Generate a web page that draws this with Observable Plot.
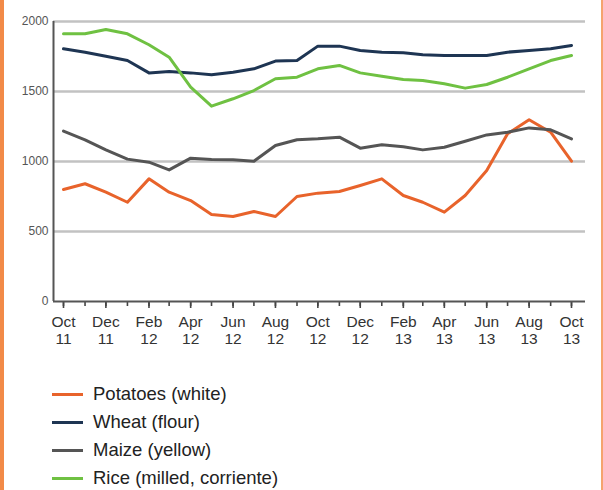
<!DOCTYPE html>
<html>
<head>
<meta charset="utf-8">
<script src="https://cdn.jsdelivr.net/npm/d3@7"></script>
<script src="https://cdn.jsdelivr.net/npm/@observablehq/plot@0.6"></script>
<style>
  html, body { margin: 0; padding: 0; background: #fff; }
  body { width: 603px; height: 490px; position: relative; overflow: hidden; font-family: "Liberation Sans", Arial, sans-serif; }
  #border-left { position: absolute; left: 0; top: 0; width: 4px; height: 490px; background: #f28a48; }
  #border-right { position: absolute; left: 601px; top: 0; width: 2px; height: 490px; background: #f5a36e; }
  #chart { position: absolute; left: 0; top: 0; }
  #legend { position: absolute; left: 0; top: 380px; }
  .item { position: absolute; left: 0; height: 28px; width: 400px; }
  .sw { position: absolute; left: 52px; width: 31px; height: 3px; top: 13px; }
  .lb { position: absolute; left: 93px; top: 0; line-height: 28px; font-size: 18.5px; color: #222; white-space: nowrap; }
</style>
</head>
<body>
<div id="chart"></div>
<div id="legend"></div>
<div id="border-left"></div>
<div id="border-right"></div>
<script>
// ---- data ----
const months = [
  "2011-10","2011-11","2011-12","2012-01","2012-02","2012-03","2012-04","2012-05","2012-06",
  "2012-07","2012-08","2012-09","2012-10","2012-11","2012-12","2013-01","2013-02","2013-03",
  "2013-04","2013-05","2013-06","2013-07","2013-08","2013-09","2013-10"
];
const seriesNames = ["Potatoes (white)", "Wheat (flour)", "Maize (yellow)", "Rice (milled, corriente)"];
const potatoes = [800, 841, 781, 709, 876, 781, 721, 621, 607, 643, 607, 750, 774, 786, 829, 876, 757, 709, 638, 757, 936, 1198, 1298, 1209, 1002];
const wheat    = [1805, 1781, 1752, 1721, 1633, 1643, 1633, 1619, 1638, 1662, 1717, 1721, 1824, 1824, 1793, 1781, 1776, 1762, 1757, 1757, 1757, 1781, 1793, 1805, 1829];
const maize    = [1217, 1155, 1083, 1017, 995, 940, 1024, 1014, 1012, 1002, 1114, 1155, 1162, 1174, 1095, 1119, 1105, 1083, 1102, 1145, 1190, 1209, 1240, 1226, 1162];
const rice     = [1912, 1912, 1943, 1912, 1834, 1745, 1531, 1395, 1448, 1507, 1591, 1602, 1662, 1686, 1633, 1609, 1585, 1578, 1555, 1524, 1550, 1602, 1662, 1721, 1757];
const yTicks = [0, 500, 1000, 1500, 2000];
const xTickMonths = ["2011-10","2011-12","2012-02","2012-04","2012-06","2012-08","2012-10","2012-12","2013-02","2013-04","2013-06","2013-08","2013-10"];
const xTickLabels = ["Oct\n11","Dec\n11","Feb\n12","Apr\n12","Jun\n12","Aug\n12","Oct\n12","Dec\n12","Feb\n13","Apr\n13","Jun\n13","Aug\n13","Oct\n13"];
const colors = ["#e8632b", "#1e3553", "#555555", "#6fc142"];

// ---- build ----
const parse = d3.utcParse("%Y-%m");
const dates = months.map(parse);
const majorDates = xTickMonths.map(parse);
const labelOf = new Map(majorDates.map((d, i) => [+d, xTickLabels[i]]));
const allValues = [potatoes, wheat, maize, rice];
const rows = [];
allValues.forEach((vals, s) => vals.forEach((v, i) => rows.push({date: dates[i], value: v, series: seriesNames[s]})));

const chart = Plot.plot({
  width: 603,
  height: 350,
  marginLeft: 53,
  marginRight: 18,
  marginTop: 21,
  marginBottom: 49,
  style: {fontFamily: "'Liberation Sans', Arial, sans-serif", background: "transparent"},
  x: {type: "utc", domain: [dates[0], dates[dates.length - 1]], insetLeft: 10, insetRight: 14},
  y: {domain: [0, 2000]},
  color: {domain: seriesNames, range: colors},
  marks: [
    Plot.ruleY(yTicks.filter(v => v > 0), {stroke: "#c2c2c2", strokeWidth: 2.5}),
    Plot.axisY({ticks: yTicks, tickSize: 0, tickPadding: 5, tickFormat: d => String(d), fontSize: 12, fill: "#555", label: null}),
    Plot.axisX({ticks: dates, tickSize: 5, tickFormat: () => "", stroke: "#444", strokeWidth: 1.6, label: null}),
    Plot.axisX({ticks: majorDates, tickSize: 7, tickPadding: 6, tickFormat: d => labelOf.get(+d), fontSize: 15.5, lineHeight: 1.1, fill: "#333", stroke: "#444", strokeWidth: 1.6, label: null}),
    Plot.ruleY([0], {stroke: "#555", strokeWidth: 2}),
    Plot.ruleX([dates[0]], {dx: -10, stroke: "#555", strokeWidth: 2}),
    Plot.line(rows, {x: "date", y: "value", stroke: "series", z: "series", strokeWidth: 3, strokeLinejoin: "round", strokeLinecap: "round"})
  ]
});
document.getElementById("chart").appendChild(chart);

const legend = document.getElementById("legend");
seriesNames.forEach((name, i) => {
  const item = document.createElement("div");
  item.className = "item";
  item.style.top = (i * 28) + "px";
  const sw = document.createElement("div");
  sw.className = "sw";
  sw.style.background = colors[i];
  const lb = document.createElement("div");
  lb.className = "lb";
  lb.textContent = name;
  item.appendChild(sw);
  item.appendChild(lb);
  legend.appendChild(item);
});
</script>
</body>
</html>
